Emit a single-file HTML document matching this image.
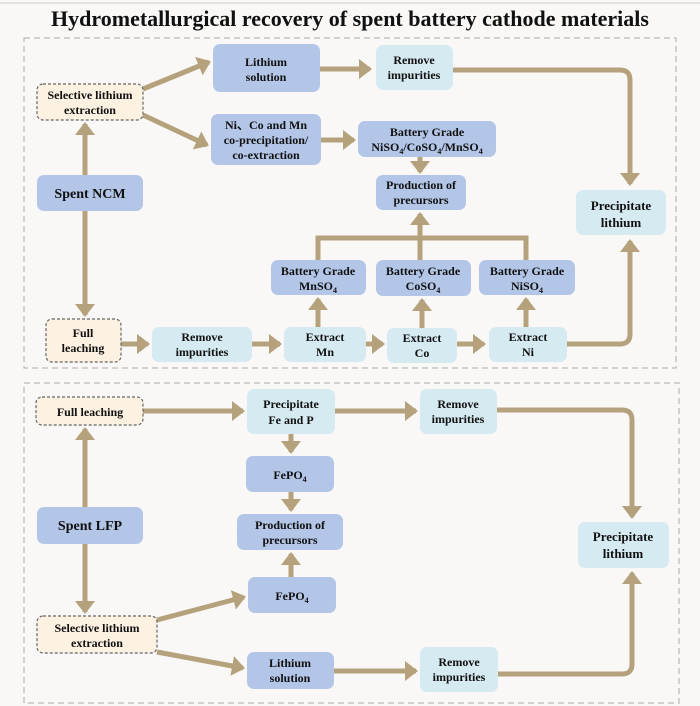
<!DOCTYPE html>
<html><head><meta charset="utf-8"><style>
html,body{margin:0;padding:0;background:#fff;}
svg{display:block;}
text{font-family:"Liberation Serif",serif;font-weight:bold;fill:#111;text-anchor:middle;}
</style></head><body>
<svg width="700" height="706" viewBox="0 0 700 706" xmlns="http://www.w3.org/2000/svg">
<defs>
<marker id="a" markerWidth="4" markerHeight="4" refX="2.2" refY="2" orient="auto" markerUnits="strokeWidth">
<path d="M0,0 L2.6,2 L0,4 Z" fill="#b5a27c"/></marker>
</defs>
<rect x="0" y="0" width="700" height="706" fill="#f9f8f6"/>
<line x1="0" y1="3" x2="700" y2="3" stroke="#ccc" stroke-width="1"/>
<text x="350" y="26" font-size="22">Hydrometallurgical recovery of  spent battery cathode materials</text>
<rect x="24" y="38" width="652" height="330" fill="none" stroke="#aaa" stroke-dasharray="6,4"/>
<rect x="24" y="383" width="655" height="320" fill="none" stroke="#aaa" stroke-dasharray="6,4"/>

<g stroke="#b5a27c" stroke-width="5" fill="none">
<!-- top -->
<line x1="143" y1="89" x2="209" y2="62" marker-end="url(#a)"/>
<line x1="143" y1="115" x2="207" y2="145" marker-end="url(#a)"/>
<line x1="320" y1="69" x2="370" y2="69" marker-end="url(#a)"/>
<line x1="321" y1="140" x2="354" y2="140" marker-end="url(#a)"/>
<line x1="420" y1="157" x2="420" y2="172" marker-end="url(#a)"/>
<path d="M453,70 H620 Q630,70 630,80 V184" marker-end="url(#a)"/>
<line x1="85" y1="175" x2="85" y2="124" marker-end="url(#a)"/>
<line x1="85" y1="211" x2="85" y2="315" marker-end="url(#a)"/>
<line x1="121" y1="344" x2="148" y2="344" marker-end="url(#a)"/>
<line x1="252" y1="344" x2="280" y2="344" marker-end="url(#a)"/>
<line x1="366" y1="344" x2="383" y2="344" marker-end="url(#a)"/>
<line x1="457" y1="344" x2="484" y2="344" marker-end="url(#a)"/>
<line x1="318" y1="327" x2="318" y2="299" marker-end="url(#a)"/>
<line x1="422" y1="328" x2="422" y2="300" marker-end="url(#a)"/>
<line x1="526" y1="327" x2="526" y2="299" marker-end="url(#a)"/>
<path d="M318,260 V238 H526 V260"/>
<line x1="420" y1="260" x2="420" y2="214" marker-end="url(#a)"/>
<path d="M567,344 H620 Q630,344 630,334 V241" marker-end="url(#a)"/>
<!-- bottom -->
<line x1="143" y1="411" x2="243" y2="411" marker-end="url(#a)"/>
<line x1="335" y1="411" x2="416" y2="411" marker-end="url(#a)"/>
<path d="M497,410 H622 Q632,410 632,420 V517" marker-end="url(#a)"/>
<line x1="291" y1="434" x2="291" y2="452" marker-end="url(#a)"/>
<line x1="291" y1="492" x2="291" y2="510" marker-end="url(#a)"/>
<line x1="291" y1="577" x2="291" y2="554" marker-end="url(#a)"/>
<line x1="85" y1="507" x2="85" y2="429" marker-end="url(#a)"/>
<line x1="85" y1="544" x2="85" y2="612" marker-end="url(#a)"/>
<line x1="157" y1="620" x2="244" y2="597" marker-end="url(#a)"/>
<line x1="157" y1="652" x2="243" y2="668" marker-end="url(#a)"/>
<line x1="334" y1="671" x2="416" y2="671" marker-end="url(#a)"/>
<path d="M498,674 H622 Q632,674 632,664 V573" marker-end="url(#a)"/>
</g>

<g>
<!-- dark blue -->
<g fill="#b3c6e7">
<rect x="213" y="44" width="107" height="48" rx="7"/>
<rect x="211" y="114" width="110" height="51" rx="7"/>
<rect x="358" y="121" width="138" height="36" rx="7"/>
<rect x="376" y="175" width="90" height="35" rx="7"/>
<rect x="37" y="175" width="106" height="36" rx="7"/>
<rect x="271" y="260" width="95" height="35" rx="7"/>
<rect x="376" y="260" width="95" height="36" rx="7"/>
<rect x="479" y="260" width="96" height="35" rx="7"/>
<rect x="246" y="456" width="88" height="36" rx="7"/>
<rect x="237" y="514" width="106" height="36" rx="7"/>
<rect x="37" y="507" width="106" height="37" rx="7"/>
<rect x="248" y="577" width="88" height="36" rx="7"/>
<rect x="247" y="652" width="87" height="37" rx="7"/>
</g>
<g fill="#d6eaf2">
<rect x="376" y="45" width="77" height="45" rx="7"/>
<rect x="576" y="190" width="90" height="45" rx="7"/>
<rect x="152" y="327" width="100" height="35" rx="7"/>
<rect x="284" y="327" width="82" height="35" rx="7"/>
<rect x="387" y="328" width="70" height="35" rx="7"/>
<rect x="489" y="327" width="78" height="35" rx="7"/>
<rect x="247" y="389" width="88" height="45" rx="7"/>
<rect x="420" y="389" width="77" height="45" rx="7"/>
<rect x="578" y="522" width="91" height="46" rx="7"/>
<rect x="420" y="647" width="78" height="45" rx="7"/>
</g>
<g fill="#fdf1e1" stroke="#666" stroke-dasharray="3,2" stroke-width="1.2">
<rect x="37" y="84" width="106" height="36" rx="6"/>
<rect x="46" y="319" width="75" height="43" rx="6"/>
<rect x="36" y="397" width="107" height="28" rx="6"/>
<rect x="37" y="616" width="120" height="37" rx="6"/>
</g>
</g>

<g font-size="12">
<text x="266" y="66">Lithium</text><text x="266" y="81">solution</text>
<text x="414" y="64">Remove</text><text x="414" y="79">impurities</text>
<text x="90" y="99">Selective lithium</text><text x="90" y="114">extraction</text>
<text x="266" y="129">Ni、Co and Mn</text><text x="266" y="144">co-precipitation/</text><text x="266" y="159">co-extraction</text>
<text x="427" y="136">Battery Grade</text><text x="427" y="151">NiSO<tspan font-size="8" dy="3">4</tspan><tspan dy="-3">/CoSO</tspan><tspan font-size="8" dy="3">4</tspan><tspan dy="-3">/MnSO</tspan><tspan font-size="8" dy="3">4</tspan></text>
<text x="421" y="189">Production of</text><text x="421" y="204">precursors</text>
<text x="621" y="210" font-size="13">Precipitate</text><text x="621" y="227" font-size="13">lithium</text>
<text x="90" y="198" font-size="14">Spent NCM</text>
<text x="318" y="275">Battery Grade</text><text x="318" y="290">MnSO<tspan font-size="8" dy="3">4</tspan></text>
<text x="423" y="275">Battery Grade</text><text x="423" y="290">CoSO<tspan font-size="8" dy="3">4</tspan></text>
<text x="527" y="275">Battery Grade</text><text x="527" y="290">NiSO<tspan font-size="8" dy="3">4</tspan></text>
<text x="83" y="337">Full</text><text x="83" y="352">leaching</text>
<text x="202" y="341">Remove</text><text x="202" y="356">impurities</text>
<text x="325" y="341">Extract</text><text x="325" y="356">Mn</text>
<text x="422" y="342">Extract</text><text x="422" y="357">Co</text>
<text x="528" y="341">Extract</text><text x="528" y="356">Ni</text>

<text x="90" y="416">Full leaching</text>
<text x="291" y="408">Precipitate</text><text x="291" y="424">Fe and P</text>
<text x="458" y="408">Remove</text><text x="458" y="423">impurities</text>
<text x="290" y="479">FePO<tspan font-size="8" dy="3">4</tspan></text>
<text x="290" y="529">Production of</text><text x="290" y="544">precursors</text>
<text x="90" y="530" font-size="14">Spent LFP</text>
<text x="623" y="541" font-size="13">Precipitate</text><text x="623" y="558" font-size="13">lithium</text>
<text x="292" y="600">FePO<tspan font-size="8" dy="3">4</tspan></text>
<text x="97" y="632">Selective lithium</text><text x="97" y="647">extraction</text>
<text x="290" y="667">Lithium</text><text x="290" y="682">solution</text>
<text x="459" y="666">Remove</text><text x="459" y="681">impurities</text>
</g>
</svg>
</body></html>
